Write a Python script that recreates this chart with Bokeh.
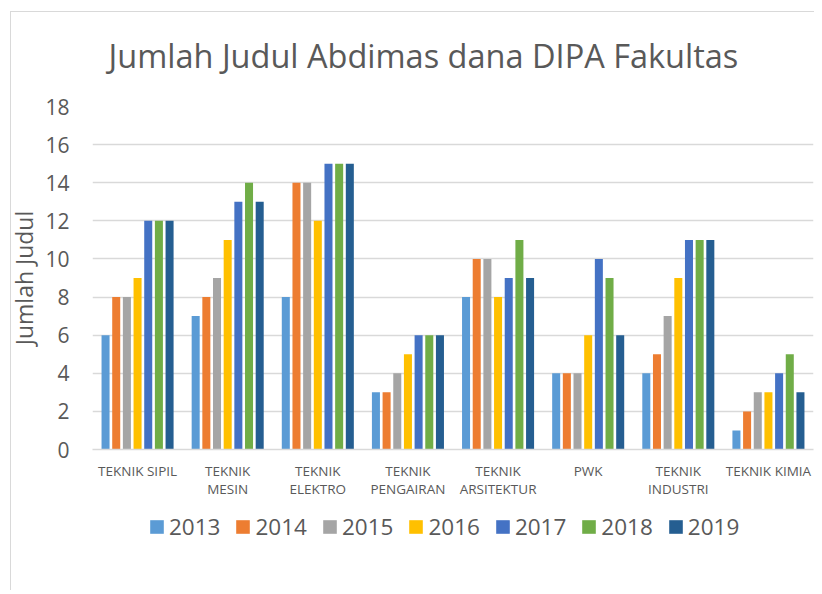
from bokeh.plotting import figure
from bokeh.layouts import column
from bokeh.models import (ColumnDataSource, FactorRange, Range1d, FixedTicker,
                          Legend, LegendItem)
from bokeh.transform import dodge
from bokeh.embed import file_html
from bokeh.resources import INLINE

# ---- data ----
categories = ["TEKNIK SIPIL", "TEKNIK\nMESIN", "TEKNIK\nELEKTRO", "TEKNIK\nPENGAIRAN",
              "TEKNIK\nARSITEKTUR", "PWK", "TEKNIK\nINDUSTRI", "TEKNIK KIMIA"]
years = ["2013", "2014", "2015", "2016", "2017", "2018", "2019"]
v2013 = [6, 7, 8, 3, 8, 4, 4, 1]
v2014 = [8, 8, 14, 3, 10, 4, 5, 2]
v2015 = [8, 9, 14, 4, 10, 4, 7, 3]
v2016 = [9, 11, 12, 5, 8, 6, 9, 3]
v2017 = [12, 13, 15, 6, 9, 10, 11, 4]
v2018 = [12, 14, 15, 6, 11, 9, 11, 5]
v2019 = [12, 13, 15, 6, 9, 6, 11, 3]
y_ticks = [0, 2, 4, 6, 8, 10, 12, 14, 16, 18]
title_text = "Jumlah Judul Abdimas dana DIPA Fakultas"
y_label = "Jumlah Judul"

colors = ["#5B9BD5", "#ED7D31", "#A5A5A5", "#FFC000", "#4472C4", "#70AD47", "#255E91"]
series = [v2013, v2014, v2015, v2016, v2017, v2018, v2019]

data = {"cat": categories}
for y, s in zip(years, series):
    data[y] = s
source = ColumnDataSource(data)

FONT = "Open Sans"
GRAY = "#595959"
GRID = "#d9d9d9"

p = figure(width=814, height=500, output_backend="svg", toolbar_location=None,
           x_range=FactorRange(factors=categories, range_padding=0),
           y_range=Range1d(0, 18),
           min_border_left=92, min_border_right=1, min_border_top=106,
           min_border_bottom=51)
p.border_fill_color = None
p.background_fill_color = None
p.outline_line_color = None

# title
p.title.text = title_text
p.title.align = "left"
p.title.offset = 16
p.title.standoff = 58
p.title.text_font = FONT
p.title.text_font_size = "32.5px"
p.title.text_font_style = "normal"
p.title.text_color = GRAY

pitch = 10.67 / 90.125
for i, (y, c) in enumerate(zip(years, colors)):
    p.vbar(x=dodge("cat", (i - 3) * pitch, range=p.x_range), top=y, width=0.089,
           source=source, fill_color=c, line_color=None)

# axes
p.xgrid.grid_line_color = None
p.ygrid.grid_line_color = GRID
p.ygrid.grid_line_width = 1.4
p.yaxis.ticker = FixedTicker(ticks=y_ticks)
p.yaxis.axis_line_color = None
p.yaxis.major_tick_line_color = None
p.yaxis.minor_tick_line_color = None
p.yaxis.major_label_text_font = FONT
p.yaxis.major_label_text_font_size = "21px"
p.yaxis.major_label_text_color = GRAY
p.yaxis.major_label_standoff = 17
p.yaxis.axis_label = y_label
p.yaxis.axis_label_text_font = FONT
p.yaxis.axis_label_text_font_size = "23px"
p.yaxis.axis_label_text_font_style = "normal"
p.yaxis.axis_label_text_color = GRAY
p.yaxis.axis_label_standoff = 2

p.xaxis.axis_line_color = GRID
p.xaxis.axis_line_width = 1.4
p.xaxis.major_tick_line_color = None
p.xaxis.minor_tick_line_color = None
p.xaxis.major_label_text_font = FONT
p.xaxis.major_label_text_font_size = "13.5px"
p.xaxis.major_label_text_color = GRAY
p.xaxis.major_label_text_line_height = 1.0
p.xaxis.major_label_standoff = 6

# legend strip (separate figure below the chart); proxy glyphs lie outside its view
lg = figure(width=814, height=90, output_backend="svg", toolbar_location=None,
            x_axis_type=None, y_axis_type=None, min_border=0,
            x_range=Range1d(0, 1), y_range=Range1d(0, 1))
lg.border_fill_color = None
lg.background_fill_color = None
lg.outline_line_color = None
lg.xgrid.visible = False
lg.ygrid.visible = False
proxy = ColumnDataSource({"x": [-5], "top": [0]})
items = []
for y, c in zip(years, colors):
    r = lg.vbar(x="x", top="top", width=0.1, source=proxy, fill_color=c, line_color=None)
    items.append(LegendItem(label=y, renderers=[r]))
legend = Legend(items=items, orientation="horizontal", location=(56, 48),
                glyph_width=17, glyph_height=17, label_standoff=4, spacing=14,
                padding=0, margin=0, border_line_color=None, background_fill_alpha=0,
                label_text_font=FONT, label_text_font_size="22.5px",
                label_text_color=GRAY)
lg.add_layout(legend, "center")

layout = column(p, lg, spacing=0)
layout.styles = {
    "background": ("linear-gradient(#d9d9d9,#d9d9d9) 10px 11px / 1px 100% no-repeat, "
                   "linear-gradient(#d9d9d9,#d9d9d9) 10px 11px / 100% 1px no-repeat, white"),
}

open("out.html", "w").write(file_html(layout, INLINE))
